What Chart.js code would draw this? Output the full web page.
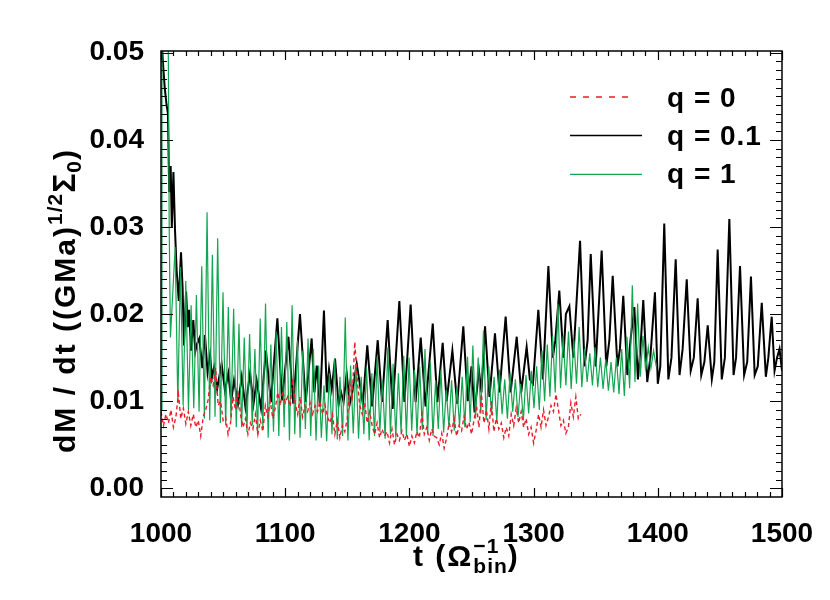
<!DOCTYPE html>
<html>
<head>
<meta charset="utf-8">
<script src="https://cdn.jsdelivr.net/npm/chart.js@4.4.1/dist/chart.umd.min.js"></script>
<style>
  body { margin: 0; background: #fff; }
</style>
</head>
<body>
<canvas id="chart" width="830" height="600"></canvas>
<script>
// q = 0 (red, dashed): sampled every 2 time units from t = 1000
const q0Start = 1000;
const q0Step = 2;
const q0Values = [
  0.0088, 0.0072, 0.0085, 0.0075, 0.0090, 0.0070, 0.0082,
  0.0108, 0.0080, 0.0092, 0.0074, 0.0088, 0.0072, 0.0085,
  0.0070, 0.0078, 0.0060, 0.0082, 0.0090, 0.0102,
  0.0128, 0.0118, 0.0138, 0.0095, 0.0100,
  0.0078, 0.0082, 0.0062, 0.0075,
  0.0105, 0.0090, 0.0112, 0.0085,
  0.0070, 0.0080, 0.0062, 0.0075,
  0.0068, 0.0085, 0.0062, 0.0078, 0.0065,
  0.0095, 0.0082, 0.0100, 0.0080, 0.0092,
  0.0110, 0.0095, 0.0112, 0.0098, 0.0105, 0.0094, 0.0126,
  0.0098, 0.0085, 0.0105, 0.0082, 0.0095,
  0.0088, 0.0098, 0.0085, 0.0095, 0.0088, 0.0100,
  0.0085, 0.0096, 0.0082,
  0.0075, 0.0085, 0.0062, 0.0078, 0.0058, 0.0072, 0.0065, 0.0080,
  0.0120, 0.0105, 0.0168, 0.0125,
  0.0095, 0.0085, 0.0098, 0.0075, 0.0088, 0.0072,
  0.0062, 0.0075, 0.0058, 0.0068, 0.0060,
  0.0065, 0.0052, 0.0068, 0.0050, 0.0062, 0.0055, 0.0066,
  0.0055, 0.0062, 0.0048, 0.0060, 0.0052,
  0.0065, 0.0058, 0.0086, 0.0062, 0.0070, 0.0055, 0.0068, 0.0060,
  0.0058, 0.0050, 0.0063, 0.0046, 0.0058,
  0.0075, 0.0065, 0.0080, 0.0060, 0.0072, 0.0066, 0.0082, 0.0068, 0.0076, 0.0062, 0.0078,
  0.0095, 0.0070, 0.0108, 0.0075,
  0.0090, 0.0068, 0.0100, 0.0065, 0.0080,
  0.0068, 0.0075, 0.0058, 0.0070, 0.0060,
  0.0085, 0.0072, 0.0092, 0.0075, 0.0088, 0.0070, 0.0080,
  0.0062, 0.0070, 0.0052, 0.0066,
  0.0085, 0.0070, 0.0090, 0.0072, 0.0082,
  0.0095, 0.0088, 0.0108, 0.0090,
  0.0072, 0.0078, 0.0063, 0.0070,
  0.0098, 0.0082, 0.0105, 0.0080, 0.0085
];

// q = 0.1 (black): [t, dM/dt] read at peaks and troughs
const q01Points = [
  [1000.3,0.052],[1001.5,0.049],[1003,0.046],[1004.5,0.044],[1005.6,0.043],[1006.6,0.034],[1007.8,0.037],
  [1008.7,0.030],[1010,0.0363],[1011.3,0.0296],[1012.6,0.025],[1014.3,0.0215],[1016.1,0.0271],[1017.4,0.023],
  [1018.5,0.0164],[1020.2,0.0226],[1021.5,0.0185],[1022.6,0.0205],[1024.2,0.0158],[1026,0.0193],[1027.6,0.0157],
  [1029,0.0166],[1030.8,0.0172],[1033.3,0.0138],[1035.4,0.0176],[1037.5,0.0133],[1039.5,0.0153],[1041,0.0127],
  [1042.7,0.0139],[1045.2,0.0114],[1048.8,0.0143],[1051.5,0.0112],[1054.2,0.0132],[1056.5,0.0100],[1058.8,0.0124],
  [1062,0.0097],[1065,0.0128],[1068,0.0093],[1071.7,0.0132],[1074.5,0.0097],[1077,0.0124],[1080.5,0.0092],
  [1084.5,0.0158],[1088.5,0.0099],[1093.7,0.0195],[1097.5,0.0101],[1102.6,0.0174],[1106.5,0.0097],[1111.9,0.0200],
  [1116.5,0.0099],[1121.3,0.0172],[1123.5,0.0110],[1125.4,0.0141],[1128,0.0094],[1131.2,0.0204],[1133.5,0.0110],
  [1135.3,0.0137],[1137.5,0.0114],[1140.1,0.0149],[1143,0.0096],[1145,0.0110],[1147,0.0099],[1149.5,0.0132],
  [1152,0.0097],[1154,0.0110],[1157.6,0.0143],[1162.5,0.0097],[1166.1,0.0164],[1170,0.0094],[1174.5,0.0170],
  [1178,0.0099],[1182.5,0.0193],[1186.5,0.0091],[1191.9,0.0215],[1196,0.0099],[1201,0.0211],[1205,0.0099],
  [1209.1,0.0173],[1213,0.0094],[1218.8,0.0189],[1222.5,0.0099],[1226.8,0.0167],[1230,0.0100],[1234.6,0.0158],
  [1238.5,0.0097],[1243.4,0.0186],[1247,0.0100],[1250,0.0140],[1252.5,0.0087],[1256,0.0135],[1258,0.0110],
  [1260.9,0.0186],[1264.5,0.0105],[1268.9,0.0178],[1272.5,0.0110],[1277.5,0.0197],[1281.5,0.0110],[1286.4,0.0174],
  [1290,0.0110],[1294.4,0.0162],[1297,0.0125],[1299.5,0.0120],[1303.8,0.0205],[1307.5,0.0125],[1311.9,0.0255],
  [1315.5,0.0150],[1317.5,0.0170],[1320.7,0.0227],[1324,0.0150],[1326,0.0200],[1328.8,0.0209],[1332,0.0150],
  [1337.4,0.0284],[1341,0.0140],[1343.5,0.0170],[1346,0.0269],[1350,0.0140],[1354.8,0.0273],[1358.5,0.0140],
  [1361,0.0170],[1363.7,0.0244],[1367.5,0.0140],[1369.5,0.0160],[1372.2,0.0221],[1375.5,0.0130],[1378,0.0170],
  [1381.1,0.0208],[1384,0.0125],[1386,0.0160],[1388.3,0.0216],[1391.5,0.0122],[1394,0.0150],[1397.7,0.0225],
  [1400,0.0120],[1402,0.0140],[1405.2,0.0304],[1408.5,0.0125],[1411,0.0150],[1414.4,0.0263],[1417.5,0.0130],
  [1420,0.0160],[1423.3,0.0240],[1426.5,0.0135],[1429,0.0150],[1432.1,0.0218],[1435,0.0130],[1437.5,0.0145],
  [1440.2,0.0187],[1443.5,0.0125],[1445.5,0.0145],[1448.2,0.0274],[1451.5,0.0125],[1454,0.0150],[1457.6,0.0309],
  [1461,0.0130],[1463,0.0150],[1466.2,0.0255],[1469.5,0.0130],[1472,0.0145],[1475,0.0243],[1478,0.0130],
  [1480.5,0.0140],[1483.7,0.0213],[1487,0.0128],[1489,0.0150],[1491.7,0.0197],[1494,0.0135],[1496,0.0150],
  [1498,0.0160],[1500,0.0135]
];

// q = 1 (green): start of the run, then one peak and one trough per period
const q1Head = [[1000.3,0.009],[1000.8,0.060],[1005.6,0.058],[1006.6,0.030],[1007.6,0.0173]];
const q1Start = 1011.4;
const q1Period = 4.28;
const q1Peaks = [
  0.0277, 0.0254, 0.0238, 0.0210, 0.0222, 0.0255, 0.0317, 0.0268, 0.0287, 0.0225,
  0.0208, 0.0206, 0.0189, 0.0173, 0.0177, 0.0160, 0.0195, 0.0212, 0.0165, 0.0180,
  0.0185, 0.0191, 0.0210, 0.0170, 0.0158, 0.0172, 0.0160, 0.0141, 0.0118, 0.0132,
  0.0149, 0.0128, 0.0196, 0.0141, 0.0143, 0.0128, 0.0139, 0.0132, 0.0151, 0.0124,
  0.0162, 0.0143, 0.0132, 0.0152, 0.0150, 0.0136, 0.0140, 0.0160, 0.0145, 0.0124,
  0.0136, 0.0113, 0.0124, 0.0116, 0.0128, 0.0151, 0.0164, 0.0150, 0.0181, 0.0140,
  0.0128, 0.0136, 0.0125, 0.0132, 0.0125, 0.0120, 0.0130, 0.0135, 0.0140, 0.0158,
  0.0165, 0.0175, 0.0212, 0.0175, 0.0180, 0.0170, 0.0185, 0.0160, 0.0155, 0.0162,
  0.0150, 0.0148, 0.0145, 0.0150, 0.0160, 0.0174, 0.0233, 0.0212, 0.0175, 0.0162,
  0.0158
];
const q1Troughs = [
  0.0098, 0.0095, 0.0090, 0.0092, 0.0088,
  0.0080, 0.0078, 0.0082, 0.0075, 0.0072, 0.0078, 0.0070,
  0.0070, 0.0065, 0.0072, 0.0062, 0.0068, 0.0058, 0.0065, 0.0060, 0.0070, 0.0055, 0.0062, 0.0058, 0.0068, 0.0060, 0.0055,
  0.0058, 0.0054, 0.0062, 0.0056, 0.0060, 0.0055, 0.0063, 0.0057, 0.0062, 0.0055, 0.0060, 0.0065, 0.0057, 0.0062, 0.0058,
  0.0064, 0.0060, 0.0066, 0.0061, 0.0067, 0.0063, 0.0060, 0.0068, 0.0064, 0.0070, 0.0066, 0.0072, 0.0070, 0.0076,
  0.0080, 0.0086, 0.0078, 0.0084, 0.0076, 0.0085, 0.0080, 0.0088, 0.0082, 0.0078, 0.0086, 0.0092, 0.0090,
  0.0100, 0.0105, 0.0110, 0.0115, 0.0118, 0.0114, 0.0120, 0.0116, 0.0122, 0.0118, 0.0116, 0.0114, 0.0112, 0.0110, 0.0108, 0.0106,
  0.0115, 0.0122, 0.0128, 0.0135, 0.0138, 0.0140
];

const xTicks = [1000, 1100, 1200, 1300, 1400, 1500];
const yTicks = [0, 0.01, 0.02, 0.03, 0.04, 0.05];
const seriesLabels = ['q = 0', 'q = 0.1', 'q = 1'];

const FONT = '"Liberation Sans", Arial, Helvetica, sans-serif';
const RED = '#ea1c2a';
const GREEN = '#13a550';

const q0Data = q0Values.map((y, i) => ({ x: q0Start + i * q0Step, y }));
const q01Data = q01Points.map(([x, y]) => ({ x, y }));
const q1Data = q1Head.map(([x, y]) => ({ x, y }));
q1Peaks.forEach((p, k) => {
  const t = q1Start + k * q1Period;
  q1Data.push({ x: t, y: p });
  q1Data.push({ x: t + q1Period / 2, y: q1Troughs[k] });
});

// rich text: plain pieces, or stacked super/subscript pieces
function setFont(ctx, p) {
  ctx.font = `bold ${p.s}px ${FONT}`;
  ctx.letterSpacing = (p.ls || 0) + 'px';
}
function pieceWidth(ctx, p) {
  setFont(ctx, p);
  if (p.sup !== undefined) {
    return Math.max(ctx.measureText(p.sup).width, ctx.measureText(p.sub).width);
  }
  return ctx.measureText(p.t).width;
}
function drawPieces(ctx, pieces, x, y) {
  let cx = x;
  for (const p of pieces) {
    const w = pieceWidth(ctx, p);
    if (p.sup !== undefined) {
      ctx.fillText(p.sup, cx, y - 13);
      ctx.fillText(p.sub, cx, y + 7);
    } else {
      ctx.fillText(p.t, cx, y + (p.dy || 0));
    }
    cx += w;
  }
  ctx.letterSpacing = '0px';
}

const yTitle = [
  { t: 'dM / dt ((GMa)', s: 30, ls: 2 },
  { t: '1/2', s: 21, dy: -13, ls: 1 },
  { t: 'Σ', s: 32, ls: 1 },
  { t: '0', s: 21, dy: 6, ls: 1 },
  { t: ')', s: 30 }
];
const xTitle = [
  { t: 't (Ω', s: 30, ls: 2 },
  { sup: '−1', sub: 'bin', s: 21, ls: 1 },
  { t: ')', s: 30 }
];

const framePlugin = {
  id: 'frame',
  afterDraw(chart) {
    const ctx = chart.ctx;
    const { left, right, top, bottom } = chart.chartArea;
    const xs = chart.scales.x, ys = chart.scales.y;
    ctx.save();
    ctx.strokeStyle = '#000';
    ctx.lineWidth = 1.5;
    ctx.strokeRect(left, top, right - left, bottom - top);
    ctx.beginPath();
    for (let t = 1000; t <= 1500; t += 10) {
      const px = Math.round(xs.getPixelForValue(t)) + 0.5;
      const len = (t % 100 === 0) ? 9 : 5;
      ctx.moveTo(px, bottom); ctx.lineTo(px, bottom - len);
      ctx.moveTo(px, top); ctx.lineTo(px, top + len);
    }
    for (let i = -1; i <= 50; i++) {
      const v = i / 1000;
      const py = Math.round(ys.getPixelForValue(v)) + 0.5;
      if (py < top || py > bottom) continue;
      const len = (i % 10 === 0) ? 12 : 6;
      ctx.moveTo(left, py); ctx.lineTo(left + len, py);
      ctx.moveTo(right, py); ctx.lineTo(right - len, py);
    }
    ctx.lineWidth = 1.2;
    ctx.stroke();

    // legend
    const ds = chart.data.datasets;
    const rows = [[97, 106.7, 635], [135.5, 145, 642], [174.3, 183, 642]];
    ds.forEach((d, i) => {
      const [ly, by, x2] = rows[i];
      ctx.beginPath();
      ctx.strokeStyle = d.borderColor;
      ctx.lineWidth = i === 1 ? 1.6 : 1.3;
      ctx.setLineDash(i === 0 ? [6, 7] : []);
      ctx.moveTo(570, ly); ctx.lineTo(x2, ly);
      ctx.stroke();
      ctx.setLineDash([]);
      ctx.fillStyle = '#000';
      ctx.font = `bold 28px ${FONT}`;
      ctx.letterSpacing = '1px';
      ctx.textAlign = 'left';
      ctx.textBaseline = 'alphabetic';
      ctx.fillText(d.label, 667, by);
      ctx.letterSpacing = '0px';
    });

    // axis titles
    ctx.fillStyle = '#000';
    ctx.textBaseline = 'alphabetic';
    ctx.textAlign = 'left';
    drawPieces(ctx, xTitle, 413, 566);
    ctx.translate(75, 453);
    ctx.rotate(-Math.PI / 2);
    drawPieces(ctx, yTitle, 0, 0);
    ctx.restore();
  }
};

const tickFont = { family: FONT, size: 28, weight: 'bold' };

new Chart(document.getElementById('chart'), {
  type: 'line',
  data: {
    datasets: [
      { label: seriesLabels[0], data: q0Data, borderColor: RED, borderWidth: 1.4, borderDash: [4, 3], order: 0 },
      { label: seriesLabels[1], data: q01Data, borderColor: '#000', borderWidth: 2, order: 2 },
      { label: seriesLabels[2], data: q1Data, borderColor: GREEN, borderWidth: 1.2, order: 1 }
    ]
  },
  options: {
    responsive: false,
    animation: false,
    layout: { padding: { top: 51, right: 48, left: 0, bottom: 0 } },
    elements: { point: { radius: 0 }, line: { tension: 0 } },
    plugins: { legend: { display: false }, tooltip: { enabled: false } },
    scales: {
      x: {
        type: 'linear', min: 1000, max: 1500,
        grid: { display: false }, border: { display: false },
        afterBuildTicks: s => { s.ticks = xTicks.map(v => ({ value: v })); },
        afterFit: s => { s.height = 103; },
        ticks: { font: tickFont, color: '#000', padding: 12, maxRotation: 0, callback: v => String(v) }
      },
      y: {
        type: 'linear', min: -0.001, max: 0.0502,
        grid: { display: false }, border: { display: false },
        afterBuildTicks: s => { s.ticks = yTicks.map(v => ({ value: v })); },
        afterFit: s => { s.width = 161; },
        ticks: { font: tickFont, color: '#000', padding: 9, callback: v => v.toFixed(2) }
      }
    }
  },
  plugins: [framePlugin]
});
</script>
</body>
</html>
